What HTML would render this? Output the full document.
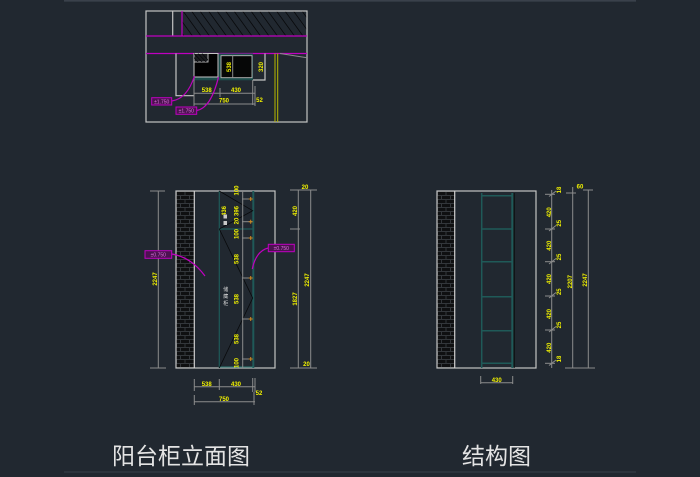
<!DOCTYPE html>
<html><head><meta charset="utf-8"><style>
html,body{margin:0;padding:0;background:#212830;}
svg{display:block;}
.g{stroke:#c4c4c4;stroke-width:1.2;fill:none;}
.gd{stroke:#8c8c8c;stroke-width:1;fill:none;}
.m{stroke:#c000c0;stroke-width:1.2;fill:none;}
.t{stroke:#1f5a58;fill:none;}
.y{fill:#f2f200;font-family:"Liberation Sans",sans-serif;font-size:6px;font-weight:bold;}
.w{fill:#d8d8d8;font-family:"Liberation Sans","Noto Sans CJK SC",sans-serif;font-size:5px;}
.mt{fill:#e070e0;font-family:"Liberation Sans",sans-serif;font-size:5px;}
.k{stroke:#08090b;stroke-width:0.8;fill:none;}
.title{fill:#e4e4e4;font-family:"Liberation Sans","Noto Sans CJK SC",sans-serif;font-size:23px;}
</style></head><body>
<svg width="700" height="477" viewBox="0 0 700 477" xmlns="http://www.w3.org/2000/svg">
<defs>
<pattern id="brick" x="176.5" y="191.5" width="18" height="8" patternUnits="userSpaceOnUse">
<rect width="18" height="8" fill="#33373b"/>
<rect x="0.5" y="0.5" width="7.5" height="3" fill="#0f1011"/>
<rect x="9" y="0.5" width="8.5" height="3" fill="#0f1011"/>
<rect x="0" y="4.5" width="3.5" height="3" fill="#0f1011"/>
<rect x="4.5" y="4.5" width="8" height="3" fill="#0f1011"/>
<rect x="13.5" y="4.5" width="4.5" height="3" fill="#0f1011"/>
</pattern>
<pattern id="brick2" x="437.5" y="191.5" width="18" height="8" patternUnits="userSpaceOnUse">
<rect width="18" height="8" fill="#33373b"/>
<rect x="0.5" y="0.5" width="7.5" height="3" fill="#0f1011"/>
<rect x="9" y="0.5" width="8.5" height="3" fill="#0f1011"/>
<rect x="0" y="4.5" width="3.5" height="3" fill="#0f1011"/>
<rect x="4.5" y="4.5" width="8" height="3" fill="#0f1011"/>
<rect x="13.5" y="4.5" width="4.5" height="3" fill="#0f1011"/>
</pattern>
<clipPath id="hc"><rect x="182" y="11" width="125" height="25"/></clipPath>
<clipPath id="hc2"><rect x="194" y="53.5" width="14" height="8.5"/></clipPath>
</defs>

<line x1="64" y1="0.8" x2="636" y2="0.8" stroke="#3a414b" stroke-width="1.6"/>
<line x1="64" y1="472" x2="636" y2="472" stroke="#343b45" stroke-width="1.2"/>

<!-- ============ TOP PLAN ============ -->
<g clip-path="url(#hc)" class="k">
<line x1="166" y1="11" x2="184" y2="36"/><line x1="174.5" y1="11" x2="192.5" y2="36"/>
<line x1="183" y1="11" x2="201" y2="36"/><line x1="191.5" y1="11" x2="209.5" y2="36"/>
<line x1="200" y1="11" x2="218" y2="36"/><line x1="208.5" y1="11" x2="226.5" y2="36"/>
<line x1="217" y1="11" x2="235" y2="36"/><line x1="225.5" y1="11" x2="243.5" y2="36"/>
<line x1="234" y1="11" x2="252" y2="36"/><line x1="242.5" y1="11" x2="260.5" y2="36"/>
<line x1="251" y1="11" x2="269" y2="36"/><line x1="259.5" y1="11" x2="277.5" y2="36"/>
<line x1="268" y1="11" x2="286" y2="36"/><line x1="276.5" y1="11" x2="294.5" y2="36"/>
<line x1="285" y1="11" x2="303" y2="36"/><line x1="293.5" y1="11" x2="311.5" y2="36"/>
<line x1="302" y1="11" x2="320" y2="36"/>
</g>
<rect x="146" y="11" width="161" height="111" class="g"/>
<line x1="172.7" y1="11" x2="172.7" y2="36" class="g"/>
<line x1="182" y1="11" x2="182" y2="36" class="m"/>
<line x1="146" y1="36" x2="307" y2="36" class="m"/>
<line x1="146" y1="53.5" x2="307" y2="53.5" class="m"/>
<line x1="280" y1="53.5" x2="307" y2="57.7" class="gd"/>
<path d="M176 53.5 V95.7 H194" class="g"/>
<rect x="194" y="76.5" width="59" height="3.8" fill="#1d4d4b"/>
<rect x="194" y="53.5" width="24" height="23.5" fill="#020202" stroke="#c4c4c4" stroke-width="1"/>
<rect x="194" y="53.5" width="14" height="8.5" fill="#1a1c1f" stroke="#c4c4c4" stroke-width="0.9"/>
<g clip-path="url(#hc2)" class="k"><line x1="190" y1="53.5" x2="198" y2="62"/><line x1="194" y1="53.5" x2="202" y2="62"/><line x1="198" y1="53.5" x2="206" y2="62"/><line x1="202" y1="53.5" x2="210" y2="62"/></g>
<rect x="218.7" y="53.5" width="34.3" height="26.5" fill="#1d4d4b"/>
<rect x="221" y="55.7" width="31" height="22" fill="#060707" stroke="#b8b8b8" stroke-width="0.9"/>
<line x1="232.7" y1="55.7" x2="232.7" y2="77.7" class="gd"/>
<path d="M253 80 H265 V53.5" class="g" stroke-width="1"/>
<text class="y" transform="translate(231,67) rotate(-90)" text-anchor="middle">538</text>
<text class="y" transform="translate(263,67) rotate(-90)" text-anchor="middle">320</text>
<line x1="275" y1="53.5" x2="275" y2="122" stroke="#b8b800" stroke-width="1"/>
<line x1="277.7" y1="53.5" x2="277.7" y2="122" stroke="#b8b800" stroke-width="1"/>
<line x1="194" y1="77" x2="194" y2="106" class="gd"/>
<line x1="194" y1="93.3" x2="255" y2="93.3" class="gd"/>
<line x1="220" y1="88" x2="220" y2="97" class="gd"/>
<line x1="252.7" y1="80" x2="252.7" y2="105" class="gd"/>
<line x1="255" y1="86" x2="255" y2="106" class="gd"/>
<line x1="194" y1="104" x2="255" y2="104" class="gd"/>
<text class="y" x="206.7" y="92" text-anchor="middle">538</text>
<text class="y" x="236" y="92" text-anchor="middle">430</text>
<text class="y" x="224" y="102.6" text-anchor="middle">750</text>
<text class="y" x="259.5" y="102" text-anchor="middle">52</text>
<rect x="151.7" y="97.7" width="20" height="7.3" fill="#4c1250" stroke="#c000c0" stroke-width="1"/>
<text class="mt" x="161.7" y="103.3" text-anchor="middle">±1.750</text>
<rect x="176" y="107" width="20.7" height="7.3" fill="#4c1250" stroke="#c000c0" stroke-width="1"/>
<text class="mt" x="186.3" y="112.6" text-anchor="middle">±1.750</text>
<path d="M171.7 101 Q187 99 194.5 76" class="m" stroke-width="1"/>
<path d="M196.7 110.5 Q211 108 218.5 77" class="m" stroke-width="1"/>

<!-- ============ ELEVATION ============ -->
<rect x="176.5" y="191.5" width="17.8" height="176.5" fill="url(#brick)"/>
<rect x="176" y="191" width="99" height="177" class="g"/>
<line x1="194.3" y1="191" x2="194.3" y2="368" stroke="#d0d0d0" stroke-width="1.2"/>
<line x1="219.3" y1="191" x2="219.3" y2="368" stroke="#1f5a58" stroke-width="1.2"/>
<line x1="253.3" y1="191" x2="253.3" y2="368" stroke="#1f5a58" stroke-width="2"/>
<line x1="219.3" y1="229" x2="253.3" y2="229" stroke="#1f5a58" stroke-width="1.2"/>
<line x1="219.3" y1="367" x2="253.3" y2="367" stroke="#2a6a66" stroke-width="1.2"/>
<path d="M219.3 191 L252.7 210.7 L219.3 229" class="k"/>
<path d="M219.3 229 L252.7 298 L219.3 368" class="k"/>
<line x1="242.7" y1="191" x2="242.7" y2="368" class="gd"/>
<g class="gd">
<line x1="242" y1="199" x2="252" y2="199"/><line x1="242" y1="221.7" x2="252" y2="221.7"/>
<line x1="242" y1="238" x2="252" y2="238"/><line x1="242" y1="278" x2="252" y2="278"/>
<line x1="242" y1="319" x2="252" y2="319"/><line x1="242" y1="359" x2="252" y2="359"/>
</g>
<g stroke="#d08a20" stroke-width="1">
<path d="M248.7 199 h4 M250.7 197 v4"/><path d="M248.7 221.7 h4 M250.7 219.7 v4"/>
<path d="M248.7 238 h4 M250.7 236 v4"/><path d="M248.7 278 h4 M250.7 276 v4"/>
<path d="M248.7 319 h4 M250.7 317 v4"/><path d="M248.7 359 h4 M250.7 357 v4"/>
</g>
<text class="y" transform="translate(238.5,190.5) rotate(-90)" text-anchor="middle">100</text>
<text class="y" transform="translate(238.5,211) rotate(-90)" text-anchor="middle">396</text>
<text class="y" transform="translate(238.5,221) rotate(-90)" text-anchor="middle">20</text>
<text class="y" transform="translate(238.5,234) rotate(-90)" text-anchor="middle">100</text>
<text class="y" transform="translate(238.5,259) rotate(-90)" text-anchor="middle">538</text>
<text class="y" transform="translate(238.5,299) rotate(-90)" text-anchor="middle">538</text>
<text class="y" transform="translate(238.5,339) rotate(-90)" text-anchor="middle">538</text>
<text class="y" transform="translate(238.5,363) rotate(-90)" text-anchor="middle">100</text>
<text class="y" transform="translate(226,211) rotate(-90)" text-anchor="middle">436</text>
<rect x="223.5" y="214.5" width="3.5" height="4" fill="#c8c8c8"/>
<rect x="223.5" y="221" width="3.5" height="4" fill="#c8c8c8"/>
<text class="w" x="225.7" y="291" text-anchor="middle">储</text>
<text class="w" x="225.7" y="298" text-anchor="middle">藏</text>
<text class="w" x="225.7" y="305" text-anchor="middle">柜</text>
<line x1="158.3" y1="190.7" x2="158.3" y2="368" class="gd"/>
<line x1="150" y1="191" x2="165" y2="191" class="gd"/>
<line x1="150" y1="368" x2="166" y2="368" class="gd"/>
<text class="y" transform="translate(157,279) rotate(-90)" text-anchor="middle">2247</text>
<rect x="145" y="250.7" width="26.7" height="7.6" fill="#4c1250" stroke="#c000c0" stroke-width="1"/>
<text class="mt" x="158.3" y="256.4" text-anchor="middle">±0.750</text>
<path d="M171.7 254 Q191 257 205 276" class="m" stroke-width="1"/>
<rect x="268.3" y="244.3" width="26" height="7.4" fill="#4c1250" stroke="#c000c0" stroke-width="1"/>
<text class="mt" x="281.3" y="250" text-anchor="middle">±0.750</text>
<path d="M268.3 248 Q256 251 252.3 269" class="m" stroke-width="1"/>
<line x1="298.3" y1="190" x2="298.3" y2="368" class="gd"/>
<line x1="290" y1="190" x2="307" y2="190" class="gd"/>
<line x1="290" y1="229" x2="300" y2="229" class="gd"/>
<line x1="290" y1="368" x2="307" y2="368" class="gd"/>
<text class="y" transform="translate(297,211) rotate(-90)" text-anchor="middle">420</text>
<text class="y" transform="translate(297,299) rotate(-90)" text-anchor="middle">1827</text>
<line x1="310.7" y1="190" x2="310.7" y2="368" class="gd"/>
<line x1="303" y1="190" x2="317" y2="190" class="gd"/>
<line x1="303" y1="368" x2="317" y2="368" class="gd"/>
<text class="y" transform="translate(309,280) rotate(-90)" text-anchor="middle">2247</text>
<text class="y" x="305" y="189" text-anchor="middle">20</text>
<text class="y" x="306.5" y="366" text-anchor="middle">20</text>
<line x1="194.3" y1="386.7" x2="255" y2="386.7" class="gd"/>
<line x1="194.3" y1="379" x2="194.3" y2="391" class="gd"/>
<line x1="219.3" y1="379" x2="219.3" y2="390" class="gd"/>
<line x1="252.7" y1="378" x2="252.7" y2="392" class="gd"/>
<line x1="255" y1="378" x2="255" y2="392" class="gd"/>
<text class="y" x="206.7" y="386" text-anchor="middle">538</text>
<text class="y" x="236" y="386" text-anchor="middle">430</text>
<line x1="194.3" y1="401.7" x2="255" y2="401.7" class="gd"/>
<line x1="194.3" y1="395" x2="194.3" y2="405" class="gd"/>
<line x1="254" y1="392" x2="254" y2="405" class="gd"/>
<text class="y" x="224" y="401" text-anchor="middle">750</text>
<text class="y" x="259" y="395" text-anchor="middle">52</text>

<!-- ============ STRUCTURE ============ -->
<rect x="437.5" y="191.5" width="17.2" height="176.5" fill="url(#brick2)"/>
<rect x="437" y="191" width="99" height="177" class="g"/>
<line x1="454.7" y1="191" x2="454.7" y2="368" stroke="#d0d0d0" stroke-width="1.2"/>
<g stroke="#1f5a58">
<line x1="481.7" y1="193" x2="481.7" y2="368" stroke-width="1.5"/>
<line x1="512.3" y1="193" x2="512.3" y2="368" stroke-width="2"/>
<line x1="481.7" y1="195.7" x2="512.3" y2="195.7" stroke-width="1.5"/>
<line x1="481.7" y1="229" x2="512.3" y2="229" stroke-width="1.5"/>
<line x1="481.7" y1="261.7" x2="512.3" y2="261.7" stroke-width="1.5"/>
<line x1="481.7" y1="296.7" x2="512.3" y2="296.7" stroke-width="1.5"/>
<line x1="481.7" y1="330.7" x2="512.3" y2="330.7" stroke-width="1.5"/>
<line x1="481.7" y1="363.3" x2="512.3" y2="363.3" stroke-width="1.5"/>
</g>
<line x1="514.2" y1="193" x2="514.2" y2="368" stroke="#0a0b0c" stroke-width="1"/>
<line x1="551.7" y1="190" x2="551.7" y2="368" class="gd"/>
<g class="gd">
<line x1="545" y1="194.3" x2="555" y2="194.3"/><path d="M549 196.5 L556 191"/>
<line x1="545" y1="229" x2="555" y2="229"/><path d="M549 231 L556 225.5"/>
<line x1="545" y1="261.7" x2="555" y2="261.7"/><path d="M549 264 L556 258.5"/>
<line x1="545" y1="296" x2="555" y2="296"/><path d="M549 298 L556 292.5"/>
<line x1="545" y1="330" x2="555" y2="330"/><path d="M549 332 L556 326.5"/>
<line x1="545" y1="363.3" x2="555" y2="363.3"/><path d="M549 365.5 L556 360"/>
</g>
<text class="y" transform="translate(551,212.3) rotate(-90)" text-anchor="middle">420</text>
<text class="y" transform="translate(551,245.7) rotate(-90)" text-anchor="middle">420</text>
<text class="y" transform="translate(551,279) rotate(-90)" text-anchor="middle">420</text>
<text class="y" transform="translate(551,314) rotate(-90)" text-anchor="middle">420</text>
<text class="y" transform="translate(551,347.7) rotate(-90)" text-anchor="middle">420</text>
<text class="y" transform="translate(561,190) rotate(-90)" text-anchor="middle">18</text>
<text class="y" transform="translate(561,223.3) rotate(-90)" text-anchor="middle">25</text>
<text class="y" transform="translate(561,257) rotate(-90)" text-anchor="middle">25</text>
<text class="y" transform="translate(561,291.7) rotate(-90)" text-anchor="middle">25</text>
<text class="y" transform="translate(561,325) rotate(-90)" text-anchor="middle">25</text>
<text class="y" transform="translate(561,359) rotate(-90)" text-anchor="middle">18</text>
<line x1="572.7" y1="187" x2="572.7" y2="368" class="gd"/>
<line x1="566" y1="193" x2="576" y2="193" class="gd"/>
<line x1="565" y1="368" x2="580" y2="368" class="gd"/>
<text class="y" transform="translate(572,281.7) rotate(-90)" text-anchor="middle">2207</text>
<line x1="588.3" y1="190" x2="588.3" y2="368" class="gd"/>
<line x1="583" y1="190" x2="593" y2="190" class="gd"/>
<line x1="580" y1="368" x2="595" y2="368" class="gd"/>
<text class="y" transform="translate(587,280) rotate(-90)" text-anchor="middle">2247</text>
<text class="y" x="580" y="188.7" text-anchor="middle">60</text>
<line x1="480.7" y1="382.7" x2="512.7" y2="382.7" class="gd"/>
<line x1="480.7" y1="376" x2="480.7" y2="384" class="gd"/>
<line x1="512.7" y1="376" x2="512.7" y2="384" class="gd"/>
<text class="y" x="496.7" y="382" text-anchor="middle">430</text>

<text class="title" x="112" y="464">阳台柜立面图</text>
<text class="title" x="462" y="464">结构图</text>
</svg>
</body></html>
